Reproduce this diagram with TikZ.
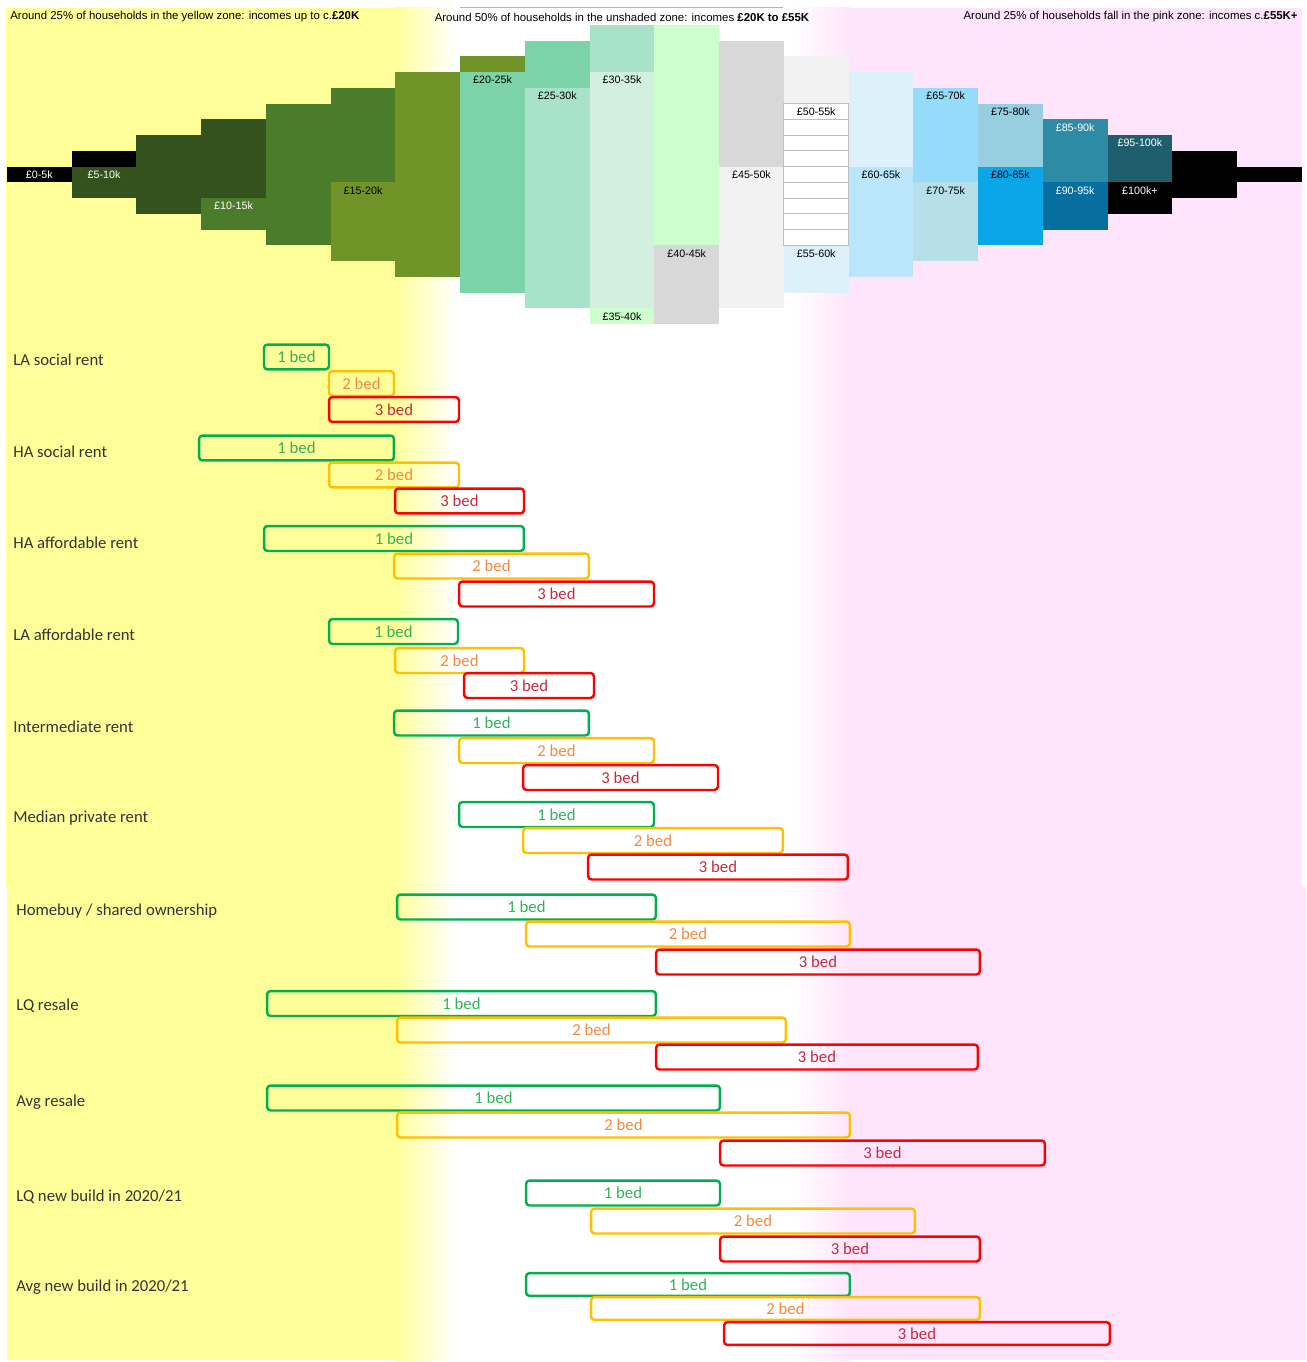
\documentclass[tikz,border=0pt]{standalone}
\usepackage{fontspec}
\setmainfont{Liberation Sans}
\newfontfamily\calfont{Carlito}
\definecolor{yzone}{HTML}{FFFF99}
\definecolor{pzone}{HTML}{FFE5FB}
\definecolor{topline}{HTML}{C4B68A}
\definecolor{gA}{HTML}{33521E}
\definecolor{gB}{HTML}{4A7C2A}
\definecolor{gC}{HTML}{709427}
\definecolor{gD}{HTML}{7DD3A8}
\definecolor{gE}{HTML}{A8E2C8}
\definecolor{gF}{HTML}{D3EFE0}
\definecolor{gG}{HTML}{CCFFCC}
\definecolor{gH}{HTML}{D8D8D8}
\definecolor{gI}{HTML}{F2F2F2}
\definecolor{bJ}{HTML}{DDF1FB}
\definecolor{bK}{HTML}{B9E6FA}
\definecolor{bL}{HTML}{96DBFA}
\definecolor{bM}{HTML}{B7DFEA}
\definecolor{bN}{HTML}{97CFE0}
\definecolor{bO}{HTML}{0BA6E8}
\definecolor{bP}{HTML}{2E8BA6}
\definecolor{bQ}{HTML}{076EA0}
\definecolor{bR}{HTML}{1F5F6D}
\definecolor{bedg}{HTML}{00B050}
\definecolor{bedgtxt}{HTML}{2EB35A}
\definecolor{bedo}{HTML}{FFC000}
\definecolor{bedotxt}{HTML}{F5883C}
\definecolor{bedr}{HTML}{FF0000}
\definecolor{bedrtxt}{HTML}{C8283F}
% style, name, left, right, y, number of beds
\newcommand{\bedbox}[6]{\node[#1, minimum width={(#4-#3)*0.569pt}] (#2) at ({(#3+#4)/2},#5) {#6 bed};}
\begin{document}
\begin{tikzpicture}[x=0.02cm, y=-0.02cm,
    hdr/.style={font=\fontsize{6.5}{7}\selectfont, inner sep=0pt},
    lbl/.style={font=\fontsize{6.1}{7}\selectfont, inner sep=0pt},
    wlbl/.style={lbl, text=white},
    rowlbl/.style={font=\calfont\fontsize{9.5}{11}\selectfont, text=black!80, anchor=west, inner sep=0pt},
    bed/.style={rounded corners=2pt, line width=1.4pt, minimum height=14.2pt, inner sep=0pt, font=\calfont\fontsize{9.5}{11}\selectfont},
    onebed/.style={bed, draw=bedg, text=bedgtxt},
    twobed/.style={bed, draw=bedo, text=bedotxt},
    threebed/.style={bed, draw=bedr, text=bedrtxt},
    cell/.style={draw=black!25, line width=0.5pt, fill=white}]
\useasboundingbox (0,0) rectangle (1306,1362);
% zones
\fill[yzone] (6,8) rectangle (395,887);
\fill[yzone] (7,887) rectangle (395,1360);
\shade[left color=yzone, right color=white] (395,8) rectangle (455,1360);
\shade[left color=white, right color=pzone] (790,8) rectangle (850,1360);
\fill[pzone] (850,8) rectangle (1302,887);
\fill[pzone] (850,887) rectangle (1306,1360);
\draw[topline, line width=0.6pt] (460,7.5) -- (783,7.5);
\node[hdr, anchor=west] (h1) at (10,17) {Around 25\% of households in the yellow zone: incomes up to c.\textbf{£20K}};
\node[hdr] (h2) at (622,17) {Around 50\% of households in the unshaded zone: incomes \textbf{£20K to £55K}};
\node[hdr, anchor=east] (h3) at (1298,17) {Around 25\% of households fall in the pink zone: incomes c.\textbf{£55K+}};
% income bands
\begin{scope}[shift={(7,9.2)}, x=1.295cm, y=-0.315cm]
  \foreach \c/\a/\b/\f in {0/10/11/black, 1/9/10/black, 1/10/12/gA, 2/8/13/gA,
      3/7/12/gA, 3/12/14/gB, 4/6/15/gB, 5/5/11/gB, 5/11/16/gC, 6/4/17/gC,
      7/3/4/gC, 7/4/18/gD, 8/2/5/gD, 8/5/19/gE, 9/1/4/gE, 9/4/19/gF, 9/19/20/gG,
      10/1/15/gG, 10/15/20/gH, 11/2/10/gH, 11/10/19/gI, 12/3/6/gI, 12/15/18/bJ,
      13/4/10/bJ, 13/10/17/bK, 14/5/11/bL, 14/11/16/bM, 15/6/10/bN, 15/10/15/bO,
      16/7/11/bP, 16/11/14/bQ, 17/8/11/bR, 17/11/13/black, 18/9/12/black, 19/10/11/black}
    \fill[\f] (\c,\a) rectangle (\c+1,\b);
  \foreach \r in {6,...,14}
    \draw[cell] (12,\r) rectangle (13,\r+1);
  \node[wlbl] (b0) at (0.5,10.5) {£0-5k};
  \node[wlbl] (b5) at (1.5,10.5) {£5-10k};
  \node[wlbl] (b10) at (3.5,12.5) {£10-15k};
  \node[lbl] (b15) at (5.5,11.5) {£15-20k};
  \node[lbl] (b20) at (7.5,4.5) {£20-25k};
  \node[lbl] (b25) at (8.5,5.5) {£25-30k};
  \node[lbl] (b30) at (9.5,4.5) {£30-35k};
  \node[lbl] (b35) at (9.5,19.5) {£35-40k};
  \node[lbl] (b40) at (10.5,15.5) {£40-45k};
  \node[lbl] (b45) at (11.5,10.5) {£45-50k};
  \node[lbl] (b50) at (12.5,6.5) {£50-55k};
  \node[lbl] (b55) at (12.5,15.5) {£55-60k};
  \node[lbl] (b60) at (13.5,10.5) {£60-65k};
  \node[lbl] (b65) at (14.5,5.5) {£65-70k};
  \node[lbl] (b70) at (14.5,11.5) {£70-75k};
  \node[lbl] (b75) at (15.5,6.5) {£75-80k};
  \node[lbl] (b80) at (15.5,10.5) {£80-85k};
  \node[wlbl] (b85) at (16.5,7.5) {£85-90k};
  \node[wlbl] (b90) at (16.5,11.5) {£90-95k};
  \node[wlbl] (b95) at (17.5,8.5) {£95-100k};
  \node[wlbl] (b100) at (17.5,11.5) {£100k+};
\end{scope}
% tenures
\node[rowlbl] (lasoc) at (13,360) {LA social rent};
\bedbox{onebed}{lasoc1}{264}{329}{357}{1}
\bedbox{twobed}{lasoc2}{329}{394}{383.5}{2}
\bedbox{threebed}{lasoc3}{329}{459}{409.5}{3}
\node[rowlbl] (hasoc) at (13,452) {HA social rent};
\bedbox{onebed}{hasoc1}{199}{394}{448}{1}
\bedbox{twobed}{hasoc2}{329}{459}{475}{2}
\bedbox{threebed}{hasoc3}{395}{524}{501}{3}
\node[rowlbl] (haaff) at (13,543) {HA affordable rent};
\bedbox{onebed}{haaff1}{264}{524}{538.5}{1}
\bedbox{twobed}{haaff2}{394}{589}{566}{2}
\bedbox{threebed}{haaff3}{459}{654}{594}{3}
\node[rowlbl] (laaff) at (13,635) {LA affordable rent};
\bedbox{onebed}{laaff1}{329}{458}{631.5}{1}
\bedbox{twobed}{laaff2}{395}{524}{660.5}{2}
\bedbox{threebed}{laaff3}{464}{594}{685.5}{3}
\node[rowlbl] (inter) at (13,727) {Intermediate rent};
\bedbox{onebed}{inter1}{394}{589}{723}{1}
\bedbox{twobed}{inter2}{459}{654}{750.5}{2}
\bedbox{threebed}{inter3}{523}{718}{777.5}{3}
\node[rowlbl] (medpr) at (13,818) {Median private rent};
\bedbox{onebed}{medpr1}{459}{654}{814.5}{1}
\bedbox{twobed}{medpr2}{523}{783}{840.5}{2}
\bedbox{threebed}{medpr3}{588}{848}{867}{3}
\node[rowlbl] (hbuy) at (16,911) {Homebuy / shared ownership};
\bedbox{onebed}{hbuy1}{397}{656}{907}{1}
\bedbox{twobed}{hbuy2}{526}{850}{934}{2}
\bedbox{threebed}{hbuy3}{656}{980}{962}{3}
\node[rowlbl] (lqres) at (16,1006) {LQ resale};
\bedbox{onebed}{lqres1}{267}{656}{1003.5}{1}
\bedbox{twobed}{lqres2}{397}{786}{1030}{2}
\bedbox{threebed}{lqres3}{656}{978}{1057}{3}
\node[rowlbl] (avres) at (16,1102) {Avg resale};
\bedbox{onebed}{avres1}{267}{720}{1098}{1}
\bedbox{twobed}{avres2}{397}{850}{1125}{2}
\bedbox{threebed}{avres3}{720}{1045}{1153}{3}
\node[rowlbl] (lqnew) at (16,1197) {LQ new build in 2020/21};
\bedbox{onebed}{lqnew1}{526}{720}{1193}{1}
\bedbox{twobed}{lqnew2}{591}{915}{1221}{2}
\bedbox{threebed}{lqnew3}{720}{980}{1249}{3}
\node[rowlbl] (avnew) at (16,1287) {Avg new build in 2020/21};
\bedbox{onebed, minimum height=13pt}{avnew1}{526}{850}{1284.5}{1}
\bedbox{twobed, minimum height=13pt}{avnew2}{591}{980}{1308.5}{2}
\bedbox{threebed, minimum height=13pt}{avnew3}{724}{1110}{1333.5}{3}
\end{tikzpicture}
\end{document}
